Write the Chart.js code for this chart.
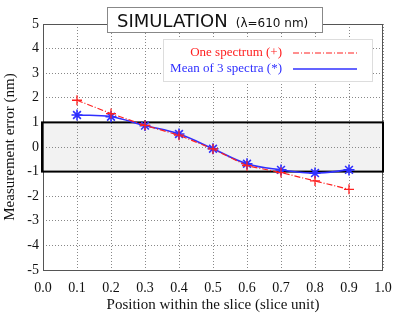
<!DOCTYPE html>
<html>
<head>
<meta charset="utf-8">
<script src="https://cdn.jsdelivr.net/npm/chart.js@4"></script>
<style>
  html, body { margin: 0; padding: 0; background: #fff; }
  #wrap { width: 399px; height: 319px; }
</style>
</head>
<body>
<div id="wrap"><canvas id="simChart"></canvas></div>
<script>
// data
const positions = [0.1, 0.2, 0.3, 0.4, 0.5, 0.6, 0.7, 0.8, 0.9];
const oneSpectrum = [1.9, 1.36, 0.88, 0.48, -0.08, -0.76, -1.04, -1.38, -1.72];
const meanOf3 = [1.3, 1.23, 0.87, 0.53, -0.07, -0.68, -0.93, -1.06, -0.93];
const seriesLabels = ['One spectrum (+)', 'Mean of 3 spectra (*)'];
const toleranceBand = [-1, 1];
const xTicks = [0, 0.1, 0.2, 0.3, 0.4, 0.5, 0.6, 0.7, 0.8, 0.9, 1.0];
const yTicks = [-5, -4, -3, -2, -1, 0, 1, 2, 3, 4, 5];
const titleMain = 'SIMULATION';
const titleSub = '(\u03bb=610 nm)';

const serif = '"Liberation Serif", "DejaVu Serif", serif';

const bandPlugin = {
    id: 'band',
    beforeDraw(chart) {
        const { ctx, scales: { x, y } } = chart;
        const x0 = x.getPixelForValue(0), x1 = x.getPixelForValue(1);
        const yTop = y.getPixelForValue(toleranceBand[1]), yBot = y.getPixelForValue(toleranceBand[0]);
        ctx.save();
        ctx.fillStyle = '#f2f2f2';
        ctx.fillRect(x0, yTop, x1 - x0, yBot - yTop);
        ctx.restore();
    },
    beforeDatasetsDraw(chart) {
        const { ctx, chartArea: a, scales: { x, y } } = chart;
        ctx.save();
        // plot frame
        ctx.strokeStyle = '#555';
        ctx.lineWidth = 1;
        ctx.strokeRect(a.left + 0.5, a.top + 0.5, a.right - a.left - 1, a.bottom - a.top);
        // band outline
        const x0 = x.getPixelForValue(0), x1 = x.getPixelForValue(1);
        const yTop = y.getPixelForValue(toleranceBand[1]), yBot = y.getPixelForValue(toleranceBand[0]);
        ctx.strokeStyle = '#000';
        ctx.lineWidth = 2;
        ctx.strokeRect(x0 - 1, yTop, x1 - x0 + 1, yBot - yTop);
        ctx.restore();
    },
    afterDraw(chart) {
        const ctx = chart.ctx;
        ctx.save();
        // title box
        ctx.fillStyle = '#fff';
        ctx.fillRect(107, 7, 216, 26);
        ctx.strokeStyle = '#888';
        ctx.lineWidth = 1;
        ctx.strokeRect(107.5, 7.5, 215, 25);
        ctx.fillStyle = '#111';
        ctx.textBaseline = 'alphabetic';
        ctx.textAlign = 'left';
        ctx.font = '18px "DejaVu Sans", sans-serif';
        ctx.fillText(titleMain, 117, 27);
        const w = ctx.measureText(titleMain).width;
        ctx.font = '12px "DejaVu Sans", sans-serif';
        ctx.fillText(titleSub, 117 + w + 8, 27);

        // legend box
        ctx.fillStyle = '#fff';
        ctx.fillRect(163, 39, 210, 42);
        ctx.strokeStyle = '#ddd';
        ctx.strokeRect(163.5, 39.5, 209, 42);
        chart.data.datasets.forEach((ds, i) => {
            const ly = 53 + i * 16;
            ctx.font = '13px ' + serif;
            ctx.textAlign = 'right';
            ctx.textBaseline = 'middle';
            ctx.fillStyle = ds.borderColor;
            ctx.fillText(ds.label, 282, ly);
            ctx.beginPath();
            ctx.strokeStyle = ds.borderColor;
            ctx.lineWidth = ds.borderWidth;
            ctx.setLineDash(ds.borderDash || []);
            ctx.moveTo(293, ly);
            ctx.lineTo(357, ly);
            ctx.stroke();
            ctx.setLineDash([]);
        });
        ctx.restore();
    }
};

new Chart(document.getElementById('simChart'), {
    type: 'line',
    data: {
        datasets: [
            {
                label: seriesLabels[0],
                data: positions.map((p, i) => ({ x: p, y: oneSpectrum[i] })),
                borderColor: '#ff2020',
                borderWidth: 1.2,
                borderDash: [6, 2, 1, 2],
                tension: 0,
                pointStyle: 'cross',
                pointRadius: 5,
                pointBorderWidth: 1.3,
                pointBorderColor: '#ff2020'
            },
            {
                label: seriesLabels[1],
                data: positions.map((p, i) => ({ x: p, y: meanOf3[i] })),
                borderColor: '#3030ff',
                borderWidth: 1.6,
                tension: 0.4,
                pointStyle: 'star',
                pointRadius: 5.5,
                pointBorderWidth: 1.6,
                pointBorderColor: '#3030ff'
            }
        ]
    },
    options: {
        responsive: true,
        maintainAspectRatio: false,
        animation: false,
        layout: { padding: { top: 24, right: 16, left: 0, bottom: 0 } },
        plugins: {
            legend: { display: false },
            title: { display: false },
            tooltip: { enabled: false }
        },
        scales: {
            x: {
                type: 'linear',
                min: 0,
                max: 1,
                afterBuildTicks: s => { s.ticks = xTicks.map(v => ({ value: v })); },
                afterFit: s => {
                    s.height = 49;
                    s.paddingLeft = 0;
                    s.paddingRight = 0;
                },
                ticks: {
                    color: '#111',
                    font: { family: serif, size: 14 },
                    padding: 10,
                    maxRotation: 0,
                    callback: v => v.toFixed(1)
                },
                grid: {
                    color: '#888',
                    drawTicks: false
                },
                border: { display: false, dash: [1, 2] },
                title: {
                    display: true,
                    text: 'Position within the slice (slice unit)',
                    color: '#111',
                    font: { family: serif, size: 15 },
                    padding: { top: 0, bottom: 5 }
                }
            },
            y: {
                type: 'linear',
                min: -5,
                max: 5,
                afterBuildTicks: s => { s.ticks = yTicks.map(v => ({ value: v })); },
                afterFit: s => { s.width = 43; },
                ticks: {
                    color: '#111',
                    font: { family: serif, size: 14 },
                    padding: 4
                },
                grid: {
                    color: '#888',
                    drawTicks: false
                },
                border: { display: false, dash: [1, 2] },
                title: {
                    display: true,
                    text: 'Measurement error (nm)',
                    color: '#111',
                    font: { family: serif, size: 15 },
                    padding: { top: 1, bottom: 0 }
                }
            }
        }
    },
    plugins: [bandPlugin]
});
</script>
</body>
</html>
